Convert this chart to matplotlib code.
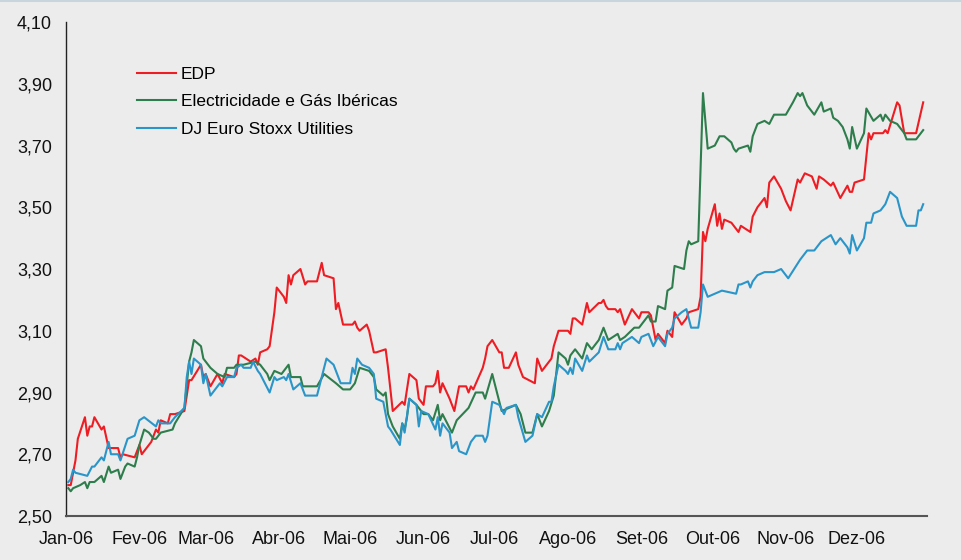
import matplotlib
matplotlib.use("Agg")
import matplotlib.pyplot as plt
import matplotlib.dates as mdates
from matplotlib.lines import Line2D
from matplotlib.ticker import FuncFormatter, FixedLocator
import pandas as pd

# month labels (pt)
month_labels = ["Jan-06", "Fev-06", "Mar-06", "Abr-06", "Mai-06", "Jun-06",
                "Jul-06", "Ago-06", "Set-06", "Out-06", "Nov-06", "Dez-06"]
y_ticks = [2.50, 2.70, 2.90, 3.10, 3.30, 3.50, 3.70, 3.90, 4.10]
series_names = ["EDP", "Electricidade e Gás Ibéricas", "DJ Euro Stoxx Utilities"]

edp_dates = ["01-02", "01-03", "01-05", "01-06", "01-09", "01-10", "01-11", "01-12", "01-13", "01-16",
             "01-17", "01-19", "01-23", "01-24", "01-25", "01-30", "02-01", "02-02", "02-04", "02-06",
             "02-08", "02-09", "02-10", "02-13", "02-14", "02-16", "02-20", "02-22", "02-23", "02-27",
             "02-28", "03-01", "03-03", "03-06", "03-08", "03-09", "03-13", "03-14", "03-15", "03-16",
             "03-20", "03-22", "03-23", "03-24", "03-27", "03-28", "03-30", "03-31", "04-03", "04-04",
             "04-05", "04-06", "04-07", "04-10", "04-12", "04-13", "04-17", "04-19", "04-20", "04-24",
             "04-25", "04-26", "04-28", "05-02", "05-03", "05-04", "05-05", "05-08", "05-09", "05-11",
             "05-12", "05-16", "05-17", "05-19", "05-23", "05-24", "05-26", "05-29", "05-30", "06-01",
             "06-02", "06-05", "06-06", "06-07", "06-08", "06-09", "06-12", "06-14", "06-16", "06-19",
             "06-20", "06-21", "06-22", "06-26", "06-27", "06-28", "06-30", "07-03", "07-04", "07-05",
             "07-07", "07-10", "07-11", "07-13", "07-18", "07-19", "07-21", "07-25", "07-26", "07-28",
             "08-01", "08-02", "08-03", "08-04", "08-07", "08-09", "08-10", "08-14", "08-15", "08-16",
             "08-17", "08-18", "08-21", "08-22", "08-23", "08-25", "08-28", "08-31", "09-01", "09-04",
             "09-05", "09-07", "09-08", "09-11", "09-12", "09-14", "09-15", "09-18", "09-20", "09-21",
             "09-25", "09-26", "09-27", "09-28", "09-29", "10-02", "10-03", "10-04", "10-05", "10-06",
             "10-09", "10-10", "10-12", "10-13", "10-17", "10-18", "10-20", "10-23", "10-24", "10-25",
             "10-27", "10-30", "11-01", "11-03", "11-06", "11-07", "11-09", "11-12", "11-14", "11-15",
             "11-17", "11-20", "11-21", "11-24", "11-27", "11-28", "11-29", "11-30", "12-04", "12-06",
             "12-07", "12-08", "12-12", "12-13", "12-14", "12-16", "12-18", "12-19", "12-21", "12-26",
             "12-29"]
edp_values = [2.60, 2.60, 2.68, 2.75, 2.82, 2.76, 2.79, 2.79, 2.82, 2.78,
              2.79, 2.72, 2.72, 2.69, 2.70, 2.69, 2.73, 2.70, 2.72, 2.74,
              2.78, 2.77, 2.81, 2.80, 2.83, 2.83, 2.84, 2.94, 2.94, 2.99,
              2.95, 2.96, 2.92, 2.96, 2.93, 2.96, 2.95, 2.96, 3.02, 3.02,
              3.00, 3.01, 2.99, 3.03, 3.04, 3.05, 3.16, 3.24, 3.21, 3.19,
              3.28, 3.25, 3.28, 3.30, 3.25, 3.26, 3.26, 3.32, 3.28, 3.27,
              3.17, 3.19, 3.12, 3.12, 3.13, 3.11, 3.10, 3.12, 3.10, 3.03,
              3.03, 3.04, 2.98, 2.84, 2.87, 2.86, 2.96, 2.94, 2.88, 2.86,
              2.92, 2.92, 2.93, 2.97, 2.90, 2.93, 2.88, 2.84, 2.92, 2.92,
              2.90, 2.92, 2.91, 2.98, 3.01, 3.05, 3.07, 3.03, 3.03, 2.98,
              2.98, 3.03, 2.99, 2.95, 2.93, 3.01, 2.97, 3.01, 3.05, 3.10,
              3.10, 3.09, 3.14, 3.14, 3.12, 3.19, 3.16, 3.19, 3.19, 3.20,
              3.18, 3.17, 3.17, 3.16, 3.17, 3.12, 3.17, 3.14, 3.16, 3.16,
              3.15, 3.07, 3.09, 3.06, 3.10, 3.08, 3.16, 3.12, 3.14, 3.16,
              3.17, 3.21, 3.42, 3.39, 3.43, 3.51, 3.44, 3.48, 3.43, 3.46,
              3.45, 3.44, 3.42, 3.44, 3.42, 3.47, 3.50, 3.53, 3.50, 3.58,
              3.60, 3.56, 3.52, 3.49, 3.59, 3.58, 3.61, 3.60, 3.56, 3.60,
              3.59, 3.57, 3.58, 3.53, 3.57, 3.55, 3.55, 3.58, 3.59, 3.74,
              3.72, 3.74, 3.74, 3.75, 3.74, 3.79, 3.84, 3.83, 3.74, 3.74,
              3.84]

egi_dates = ["01-02", "01-03", "01-04", "01-07", "01-09", "01-10", "01-11", "01-13", "01-16", "01-17",
             "01-19", "01-20", "01-23", "01-24", "01-26", "01-27", "01-30", "01-31", "02-01", "02-03",
             "02-05", "02-07", "02-08", "02-10", "02-15", "02-16", "02-20", "02-22", "02-23", "02-24",
             "02-27", "02-28", "03-01", "03-03", "03-06", "03-09", "03-10", "03-13", "03-14", "03-17",
             "03-22", "03-24", "03-27", "03-28", "03-30", "04-02", "04-05", "04-06", "04-10", "04-11",
             "04-17", "04-20", "04-25", "04-28", "05-01", "05-03", "05-05", "05-09", "05-11", "05-12",
             "05-15", "05-16", "05-17", "05-19", "05-22", "05-23", "05-24", "05-25", "05-26", "05-29",
             "06-01", "06-03", "06-05", "06-07", "06-08", "06-09", "06-13", "06-15", "06-20", "06-23",
             "06-26", "06-27", "06-30", "07-03", "07-04", "07-10", "07-12", "07-14", "07-17", "07-19",
             "07-21", "07-24", "07-26", "07-28", "07-31", "08-01", "08-02", "08-04", "08-07", "08-09",
             "08-11", "08-14", "08-16", "08-18", "08-22", "08-23", "08-25", "08-29", "08-31", "09-04",
             "09-05", "09-07", "09-08", "09-11", "09-12", "09-14", "09-15", "09-19", "09-20", "09-21",
             "09-22", "09-25", "09-27", "09-29", "10-02", "10-04", "10-06", "10-09", "10-10", "10-11",
             "10-12", "10-16", "10-17", "10-18", "10-20", "10-23", "10-25", "10-27", "10-30", "11-01",
             "11-04", "11-06", "11-07", "11-08", "11-10", "11-13", "11-16", "11-17", "11-20", "11-21",
             "11-23", "11-25", "11-27", "11-28", "11-29", "12-01", "12-04", "12-05", "12-08", "12-11",
             "12-12", "12-13", "12-15", "12-18", "12-21", "12-22", "12-26", "12-27", "12-29"]
egi_values = [2.59, 2.58, 2.59, 2.60, 2.61, 2.59, 2.61, 2.61, 2.63, 2.61,
              2.66, 2.64, 2.65, 2.62, 2.66, 2.67, 2.66, 2.69, 2.73, 2.78,
              2.77, 2.75, 2.75, 2.77, 2.78, 2.80, 2.85, 3.00, 3.03, 3.07,
              3.05, 3.01, 3.00, 2.98, 2.96, 2.95, 2.98, 2.98, 2.99, 2.99,
              3.00, 2.99, 2.96, 2.94, 2.97, 2.96, 2.99, 2.95, 2.95, 2.92,
              2.92, 2.96, 2.93, 2.91, 2.91, 2.93, 2.98, 2.97, 2.95, 2.91,
              2.89, 2.90, 2.83, 2.79, 2.75, 2.80, 2.78, 2.82, 2.88, 2.86,
              2.83, 2.83, 2.81, 2.86, 2.81, 2.83, 2.77, 2.81, 2.85, 2.90,
              2.90, 2.88, 2.96, 2.87, 2.84, 2.86, 2.83, 2.77, 2.77, 2.83,
              2.79, 2.84, 2.89, 3.03, 3.01, 2.99, 3.02, 3.04, 3.01, 3.06,
              3.04, 3.07, 3.11, 3.07, 3.09, 3.07, 3.08, 3.11, 3.11, 3.15,
              3.13, 3.13, 3.18, 3.17, 3.23, 3.24, 3.31, 3.30, 3.36, 3.39,
              3.38, 3.39, 3.87, 3.69, 3.70, 3.73, 3.73, 3.71, 3.69, 3.68,
              3.69, 3.70, 3.68, 3.73, 3.77, 3.78, 3.77, 3.80, 3.80, 3.80,
              3.84, 3.87, 3.86, 3.87, 3.83, 3.80, 3.84, 3.81, 3.82, 3.79,
              3.78, 3.76, 3.72, 3.69, 3.76, 3.69, 3.74, 3.82, 3.78, 3.80,
              3.78, 3.80, 3.78, 3.77, 3.74, 3.72, 3.72, 3.73, 3.75]

dj_dates = ["01-02", "01-03", "01-04", "01-05", "01-10", "01-12", "01-13", "01-16", "01-17", "01-19",
            "01-20", "01-23", "01-24", "01-27", "01-30", "02-01", "02-03", "02-08", "02-09", "02-10",
            "02-14", "02-16", "02-20", "02-21", "02-22", "02-23", "02-24", "02-27", "02-28", "03-01",
            "03-03", "03-07", "03-08", "03-10", "03-13", "03-14", "03-16", "03-17", "03-20", "03-21",
            "03-23", "03-24", "03-28", "03-30", "03-31", "04-03", "04-04", "04-05", "04-07", "04-10",
            "04-12", "04-17", "04-21", "04-24", "04-27", "05-01", "05-02", "05-03", "05-04", "05-06",
            "05-09", "05-11", "05-12", "05-15", "05-17", "05-18", "05-22", "05-23", "05-24", "05-26",
            "05-29", "05-30", "05-31", "06-03", "06-06", "06-07", "06-08", "06-09", "06-12", "06-13",
            "06-15", "06-16", "06-19", "06-21", "06-23", "06-26", "06-27", "06-28", "06-30", "07-03",
            "07-05", "07-06", "07-10", "07-11", "07-14", "07-17", "07-19", "07-21", "07-24", "07-25",
            "07-26", "07-28", "07-31", "08-01", "08-02", "08-03", "08-04", "08-07", "08-09", "08-10",
            "08-14", "08-16", "08-18", "08-21", "08-22", "08-23", "08-24", "08-28", "08-31", "09-01",
            "09-04", "09-06", "09-08", "09-11", "09-12", "09-14", "09-15", "09-18", "09-20", "09-21",
            "09-22", "09-25", "09-26", "09-27", "09-29", "10-02", "10-05", "10-11", "10-12", "10-13",
            "10-16", "10-17", "10-18", "10-20", "10-23", "10-27", "10-30", "10-31", "11-02", "11-07",
            "11-10", "11-13", "11-16", "11-20", "11-22", "11-24", "11-27", "11-28", "11-29", "12-01",
            "12-04", "12-05", "12-07", "12-08", "12-11", "12-13", "12-15", "12-18", "12-20", "12-22",
            "12-26", "12-27", "12-28", "12-29"]
dj_values = [2.61, 2.62, 2.65, 2.64, 2.63, 2.66, 2.66, 2.69, 2.68, 2.74,
             2.70, 2.70, 2.68, 2.75, 2.76, 2.81, 2.82, 2.79, 2.81, 2.80,
             2.80, 2.82, 2.85, 2.95, 3.00, 2.96, 3.01, 2.99, 2.93, 2.96,
             2.89, 2.93, 2.92, 2.95, 2.95, 2.98, 2.99, 2.98, 2.98, 3.00,
             2.97, 2.96, 2.90, 2.95, 2.94, 2.95, 2.94, 2.96, 2.91, 2.93,
             2.89, 2.89, 3.01, 2.99, 2.93, 2.93, 2.98, 2.96, 3.01, 2.99,
             2.98, 2.96, 2.88, 2.87, 2.79, 2.78, 2.73, 2.80, 2.77, 2.88,
             2.86, 2.79, 2.84, 2.83, 2.78, 2.82, 2.76, 2.80, 2.77, 2.72,
             2.74, 2.71, 2.70, 2.74, 2.76, 2.76, 2.74, 2.76, 2.87, 2.86,
             2.83, 2.85, 2.86, 2.82, 2.74, 2.76, 2.83, 2.82, 2.87, 2.87,
             2.92, 2.99, 2.97, 2.96, 2.98, 2.96, 3.01, 2.97, 3.02, 3.00,
             3.03, 3.08, 3.04, 3.04, 3.06, 3.04, 3.06, 3.08, 3.06, 3.08,
             3.09, 3.05, 3.08, 3.05, 3.09, 3.11, 3.14, 3.16, 3.17, 3.14,
             3.11, 3.11, 3.16, 3.25, 3.21, 3.22, 3.23, 3.22, 3.25, 3.25,
             3.26, 3.24, 3.26, 3.28, 3.29, 3.29, 3.30, 3.29, 3.27, 3.33,
             3.36, 3.36, 3.39, 3.41, 3.38, 3.40, 3.37, 3.35, 3.41, 3.36,
             3.40, 3.45, 3.45, 3.48, 3.49, 3.51, 3.55, 3.53, 3.47, 3.44,
             3.44, 3.49, 3.49, 3.51]

colors = ["#ee1d23", "#2e7d4c", "#2a95c8"]
bg = "#ececec"

plt.rcParams['font.family'] = ['Liberation Sans', 'DejaVu Sans']

fig = plt.figure(figsize=(9.62, 5.6), dpi=100, facecolor=bg)
ax = fig.add_axes([0.0686, 0.0786, 0.895, 0.882])
ax.set_facecolor(bg)

# thin frame line along the top edge of the image
fig.add_artist(Line2D([0, 1], [0.998, 0.998], transform=fig.transFigure,
                      color="#c9d5dd", lw=1.5))


def to_dates(md):
    return pd.to_datetime(["2006-" + s for s in md])


all_dates = [edp_dates, egi_dates, dj_dates]
all_values = [edp_values, egi_values, dj_values]
for name, d, v, c in zip(series_names, all_dates, all_values, colors):
    ax.plot(to_dates(d), v, color=c, lw=1.5, label=name)

start = pd.Timestamp("2006-01-01")
ax.set_xlim(start, start + pd.Timedelta(days=363.6))
ax.set_ylim(y_ticks[0], y_ticks[-1])
ax.yaxis.set_major_locator(FixedLocator(y_ticks))
ax.yaxis.set_major_formatter(FuncFormatter(lambda v, p: f"{v:.2f}".replace(".", ",")))

ax.xaxis.set_major_locator(mdates.MonthLocator())
ax.xaxis.set_major_formatter(FuncFormatter(lambda x, p: month_labels[mdates.num2date(x).month - 1]))

ax.tick_params(axis='both', length=0, labelsize=13, colors='#111111')
ax.tick_params(axis='y', pad=10)
ax.tick_params(axis='x', pad=11)

for s in ['top', 'right']:
    ax.spines[s].set_visible(False)
ax.spines['left'].set_color('#222222')
ax.spines['left'].set_linewidth(1.0)
ax.spines['bottom'].set_color('#555555')
ax.spines['bottom'].set_linewidth(1.5)

ax.legend(loc='upper left', bbox_to_anchor=(0.074, 0.924), frameon=False,
          fontsize=12.5, handlelength=2.25, handletextpad=0.3, labelspacing=0.72,
          borderaxespad=0)

fig.savefig("out.png", dpi=100, facecolor=bg)
